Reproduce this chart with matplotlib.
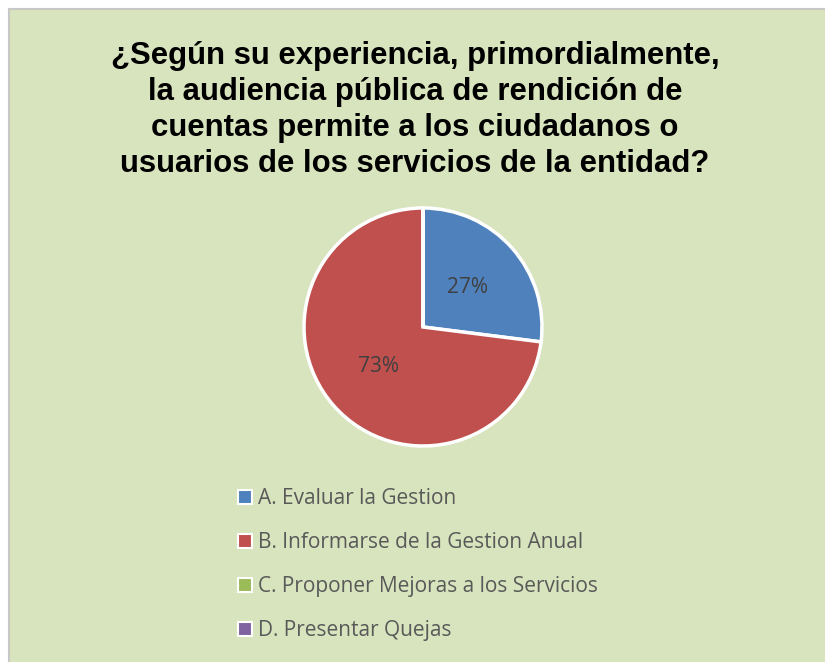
import matplotlib.pyplot as plt
from matplotlib.patches import Rectangle, Patch

# data
categories = ['A. Evaluar la Gestion',
              'B. Informarse de la Gestion Anual',
              'C. Proponer Mejoras a los Servicios',
              'D. Presentar Quejas']
shares = [27, 73, 0, 0]
colors = ['#4F81BD', '#C0504D', '#9BBB59', '#8064A2']
title = ('¿Según su experiencia, primordialmente,\n'
         'la audiencia pública de rendición de\n'
         'cuentas permite a los ciudadanos o\n'
         'usuarios de los servicios de la entidad?')

W, H = 825, 662
fig = plt.figure(figsize=(W / 100, H / 100), dpi=100, facecolor='white')

# green chart area with grey border on top/left
fig.patches.append(Rectangle((8.5 / W, -0.01), 1.0, 1 - 8.5 / H + 0.01,
                             transform=fig.transFigure, facecolor='#D8E4BD',
                             edgecolor='#C8C8C8', linewidth=1.5, zorder=-1))

fig.text(415 / W, 1 - 110 / H, title, ha='center', va='center',
         fontsize=22.4, fontweight='bold', family='Liberation Sans',
         linespacing=1.27, color='black')

# pie
cx, cy, r = 423, 327, 119
ax = fig.add_axes([(cx - r) / W, (H - cy - r) / H, 2 * r / W, 2 * r / H])
ax.set_zorder(1)
wedges, texts, autotexts = ax.pie(
    shares, colors=colors, startangle=90, counterclock=False,
    autopct=lambda p: f'{p:.0f}%' if p > 0 else '', pctdistance=0.5,
    wedgeprops=dict(edgecolor='white', linewidth=2.5),
    textprops=dict(fontsize=15, color='#404040', family='Open Sans'))
ax.set_xlim(-1.0, 1.0)
ax.set_ylim(-1.0, 1.0)
ax.set_aspect('equal')
ax.axis('off')

handles = [Patch(facecolor=c, edgecolor='white', linewidth=1.5) for c in colors]
leg = fig.legend(handles, categories, loc='upper left',
                 bbox_to_anchor=(230 / W, 1 - 480 / H),
                 frameon=False, labelcolor='#595959',
                 handlelength=0.65, handleheight=0.65, handletextpad=0.3,
                 labelspacing=1.1, borderaxespad=0,
                 prop=dict(family='Open Sans', size=15))

fig.savefig('out.png', dpi=100, facecolor='white')
